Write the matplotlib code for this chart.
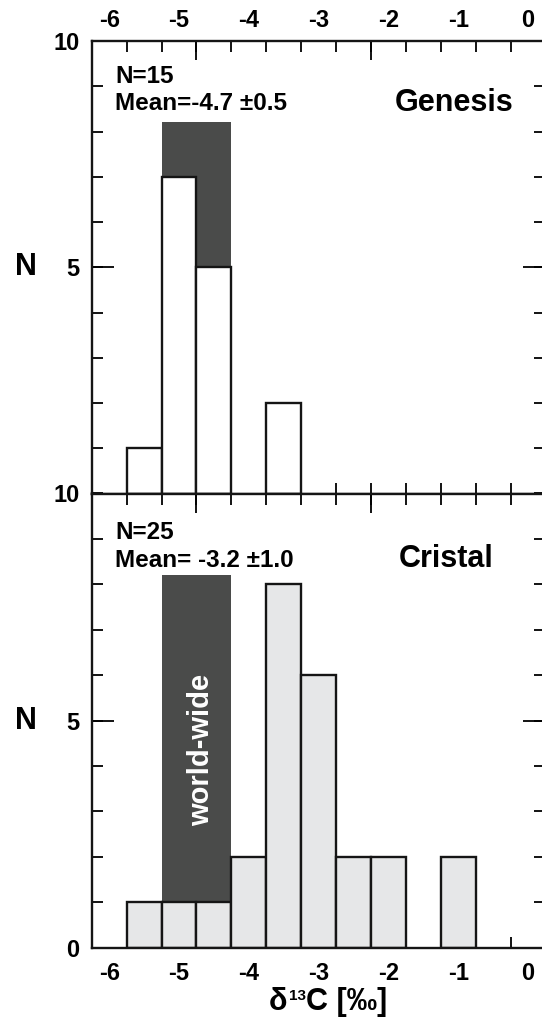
import matplotlib
matplotlib.use("Agg")
import matplotlib.pyplot as plt
import numpy as np

plt.rcParams['font.family'] = ['Liberation Sans', 'DejaVu Sans']
plt.rcParams['font.weight'] = 'bold'

# ---------------- data ----------------
bin_width = 0.5
genesis_centers = [-5.5, -5.0, -4.5, -3.5]
genesis_counts = [1, 7, 5, 2]
cristal_centers = [-5.5, -5.0, -4.5, -4.0, -3.5, -3.0, -2.5, -2.0, -1.0]
cristal_counts = [1, 1, 1, 2, 8, 6, 2, 2, 2]
worldwide_lo, worldwide_hi = -5.25, -4.25
worldwide_top = 8.2
tick_edges = [-5.75, -5.25, -4.75, -4.25, -3.75, -3.25, -2.75, -2.25,
              -1.75, -1.25, -0.75, -0.25]
long_edges = [-4.75, -2.25]
x_labels = [-6, -5, -4, -3, -2, -1, 0]

W, H = 542, 1017
fig = plt.figure(figsize=(W / 100, H / 100), dpi=100)

def fx(px):
    return px / W

def fy(py):
    return 1 - py / H

left_px, right_px = 92, 545
top_px, mid_px, bot_px = 41, 493.5, 947.7
ax1 = fig.add_axes([fx(left_px), fy(mid_px), fx(right_px) - fx(left_px), fy(top_px) - fy(mid_px)])
ax2 = fig.add_axes([fx(left_px), fy(bot_px), fx(right_px) - fx(left_px), fy(mid_px) - fy(bot_px)])

dark = '#4a4b4a'
xlim = (-6.247, 0.243)
tick_fs = 17

for ax, centers, counts, face in [(ax1, genesis_centers, genesis_counts, 'white'),
                                  (ax2, cristal_centers, cristal_counts, '#e6e7e8')]:
    ax.bar((worldwide_lo + worldwide_hi) / 2, worldwide_top, width=worldwide_hi - worldwide_lo,
           color=dark, edgecolor='none', zorder=1)
    ax.bar(centers, counts, width=bin_width, facecolor=face, edgecolor='#151515',
           linewidth=1.7, zorder=2)
    ax.set_xlim(*xlim)
    ax.set_ylim(0, 10)
    for s in ax.spines.values():
        s.set_linewidth(1.7)
        s.set_color('#151515')
        s.set_zorder(5)
    ax.xaxis.remove_overlapping_locs = False
    ax.yaxis.remove_overlapping_locs = False
    ax.set_xticks(tick_edges)
    ax.set_xticks(long_edges, minor=True)
    ax.set_xticklabels([])
    ax.tick_params(axis='x', which='major', direction='in', top=True, bottom=True,
                   length=8, width=1.3, labelbottom=False, labeltop=False)
    ax.tick_params(axis='x', which='minor', direction='in', top=True, bottom=False,
                   length=14, width=1.3, labelbottom=False, labeltop=False)
    ax.set_yticks(np.arange(0, 11, 1))
    ax.set_yticks([5], minor=True)
    ax.tick_params(axis='y', which='major', direction='in', left=True, right=True,
                   length=8, width=1.3, labelsize=tick_fs, pad=9)
    ax.tick_params(axis='y', which='minor', direction='in', left=True, right=True,
                   length=16, width=1.3, labelleft=False)
    ax.set_ylabel('N', rotation=0, fontsize=22, fontweight='bold', va='center')

ax1.set_yticklabels(['' if v not in (5, 10) else str(v) for v in range(11)])
ax2.set_yticklabels(['' if v not in (0, 5, 10) else str(v) for v in range(11)])
ax1.yaxis.set_label_coords(-0.145, 0.5)
ax2.yaxis.set_label_coords(-0.145, 0.5)

# tick labels at integer positions
sec_top = ax1.secondary_xaxis('top')
sec_top.set_xticks(x_labels)
sec_top.set_xticklabels([str(v) for v in x_labels])
sec_top.tick_params(length=0, labelsize=tick_fs, pad=6.5)
for s in sec_top.spines.values():
    s.set_visible(False)

sec_bot = ax2.secondary_xaxis('bottom')
sec_bot.set_xticks(x_labels)
sec_bot.set_xticklabels([str(v) for v in x_labels])
sec_bot.tick_params(length=0, labelsize=tick_fs, pad=10.5)
for s in sec_bot.spines.values():
    s.set_visible(False)

# worldwide label
ax2.text((worldwide_lo + worldwide_hi) / 2 + 0.07, 4.35, 'world-wide', rotation=90,
         color='white', fontsize=21, fontweight='bold', ha='center', va='center', zorder=3)

# annotations
ann_fs = 17.5
fig.text(fx(115), fy(83), 'N=15', fontsize=ann_fs, fontweight='bold', va='baseline')
fig.text(fx(115), fy(110), 'Mean=-4.7 \u00b10.5', fontsize=ann_fs, fontweight='bold', va='baseline')
fig.text(fx(513), fy(111), 'Genesis', fontsize=22, fontweight='bold', va='baseline', ha='right')
fig.text(fx(115), fy(539), 'N=25', fontsize=ann_fs, fontweight='bold', va='baseline')
fig.text(fx(115), fy(567), 'Mean= -3.2 \u00b11.0', fontsize=ann_fs, fontweight='bold', va='baseline')
fig.text(fx(493), fy(567), 'Cristal', fontsize=22, fontweight='bold', va='baseline', ha='right')

# x axis label built from pieces: delta, small superscript 13, "C [permil]"
renderer = fig.canvas.get_renderer()
base_y = 1010
t_d = fig.text(fx(269), fy(base_y), '\u03b4', fontsize=22, fontweight='bold', va='baseline')
bb = t_d.get_window_extent(renderer)
t_s = fig.text(bb.x1 / W + 1 / W, fy(base_y - 10), '13', fontsize=11, fontweight='bold',
               va='baseline')
bb2 = t_s.get_window_extent(renderer)
fig.text(bb2.x1 / W + 1 / W, fy(base_y), 'C [\u2030]', fontsize=22, fontweight='bold',
         va='baseline')

fig.savefig('out.png', dpi=100)
